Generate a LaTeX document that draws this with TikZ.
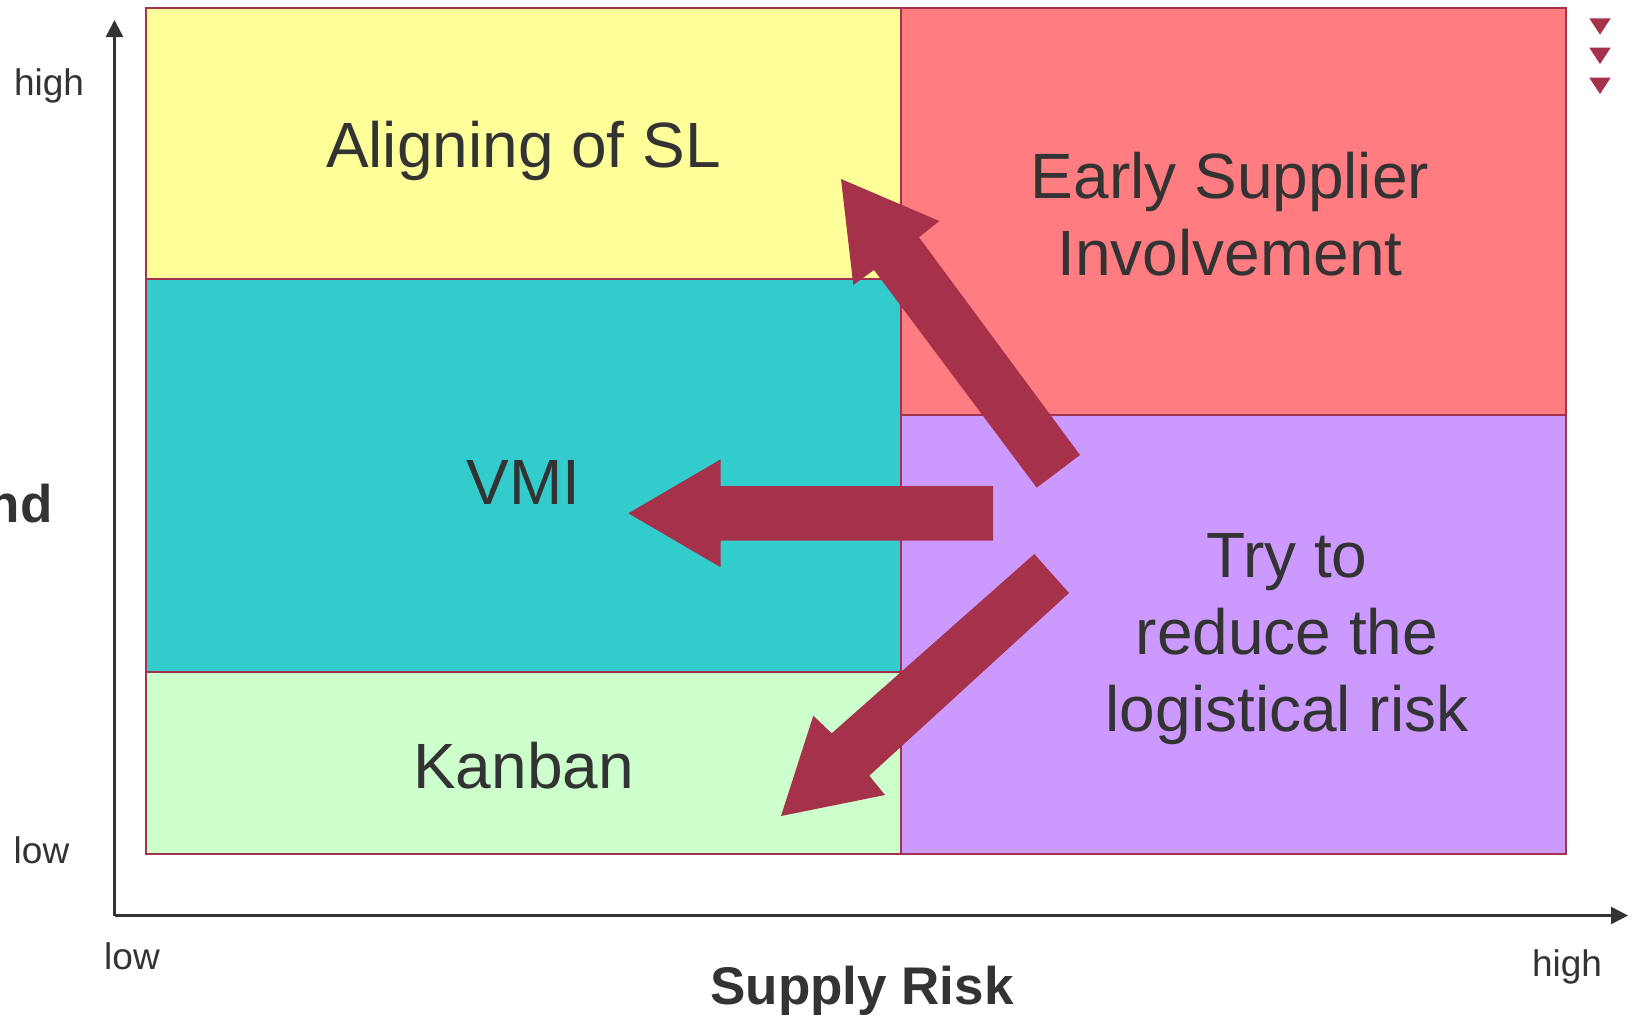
\documentclass[tikz,border=0pt]{standalone}
\usepackage{fontspec}
\setmainfont{Liberation Sans}
\usetikzlibrary{arrows.meta}
\definecolor{cellborder}{HTML}{A3324F}
\definecolor{cellyellow}{HTML}{FFFF99}
\definecolor{cellteal}{HTML}{33CCCC}
\definecolor{cellgreen}{HTML}{CCFFCC}
\definecolor{cellred}{HTML}{FF7C80}
\definecolor{cellpurple}{HTML}{CC99FF}
\definecolor{bigarrow}{HTML}{A6314B}
\definecolor{inktext}{HTML}{333333}
\tikzset{
  cell/.style={draw=cellborder, line width=2pt},
  celltext/.style={text=inktext, align=center, font=\fontsize{64}{77}\selectfont},
  axislabel/.style={text=inktext, font=\fontsize{37}{42}\selectfont},
  axistitle/.style={text=inktext, font=\bfseries\fontsize{53}{60}\selectfont},
  axisline/.style={draw=inktext, line width=2.6pt, -{Triangle[length=17pt,width=17pt]}},
  blockarrow/.style={fill=bigarrow, draw=none},
  marker/.style={fill=bigarrow, draw=none}
}
\begin{document}
\begin{tikzpicture}[x=1pt,y=-1pt]
\useasboundingbox (0,0) rectangle (1632,1017);
\fill[white] (0,0) rectangle (1632,1017);

% matrix cells
\path[cell, fill=cellyellow] (145.5,8) rectangle (901.3,279);
\path[cell, fill=cellteal]   (145.5,279) rectangle (901.3,671.5);
\path[cell, fill=cellgreen]  (145.5,671.5) rectangle (901.3,853.5);
\path[cell, fill=cellred]    (901.3,8) rectangle (1566.4,415);
\path[cell, fill=cellpurple] (901.3,415) rectangle (1566.4,853.5);

% axes
\coordinate (origin) at (114.5,915.5);
\coordinate (ytop) at (114.5,20);
\coordinate (xend) at (1628,915.5);
\draw[axisline] (origin) -- (ytop);
\draw[axisline] (origin) -- (xend);

% cell captions
\node[celltext] (align) at (523.5,150.5) {Aligning of SL};
\node[celltext] (esi) at (1230,214.5) {Early Supplier\\Involvement};
\node[celltext] (vmi) at (523.5,482) {VMI};
\node[celltext] (kanban) at (523.5,766) {Kanban};
\node[celltext] (reduce) at (1287,639) {Try to\\reduce the\\logistical risk};

% axis labels
\node[axislabel] (yhigh) at (49,86) {high};
\node[axislabel] (ylow) at (41.5,850) {low};
\node[axislabel] (xlow) at (132,956) {low};
\node[axislabel] (xhigh) at (1567,967) {high};
\node[axistitle] (xtitle) at (862,991) {Supply Risk};
\node[axistitle, anchor=base east] (ytitle) at (56,522) {nd};

% block arrows
\path[blockarrow] (993,486) -- (720.7,486) -- (720.7,459.3) -- (628.3,513.3)
  -- (720.7,567.3) -- (720.7,540.7) -- (993,540.7) -- cycle;
\path[blockarrow] (1080,455) -- (919,237.3) -- (939.3,221) -- (841,179)
  -- (853.3,285) -- (874,270) -- (1036.7,487.7) -- cycle;
\path[blockarrow] (1034.3,554) -- (831.7,733.3) -- (813.3,715.7) -- (781,816)
  -- (885,795) -- (869.3,775.7) -- (1069,593) -- cycle;

% stacked markers at the top right
\foreach \yy in {18.3,47.7,77.7}
  \path[marker] (1589.3,\yy) -- (1610.7,\yy) -- (1600,\yy+16.3) -- cycle;
\end{tikzpicture}
\end{document}
